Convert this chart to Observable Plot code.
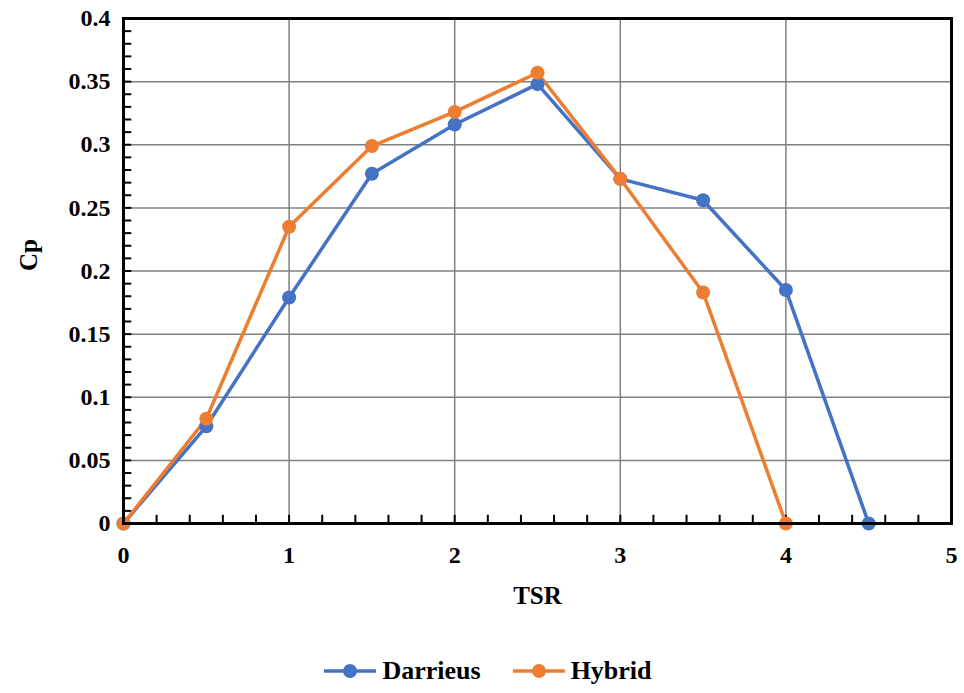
<!DOCTYPE html>
<html>
<head>
<meta charset="utf-8">
<script src="https://cdn.jsdelivr.net/npm/d3@7"></script>
<script src="https://cdn.jsdelivr.net/npm/@observablehq/plot@0.6"></script>
<style>
  html, body { margin: 0; padding: 0; background: #fff; }
  #chart { width: 964px; }
  .legend { display: flex; justify-content: center; align-items: center; gap: 30px; font-family: "Liberation Serif", "DejaVu Serif", serif; font-weight: bold; font-size: 26px; color: #000; margin-top: 28px; padding-left: 10px;}
  .legend span { display: flex; align-items: center; gap: 4px; }
</style>
</head>
<body>
<div id="chart"></div>
<script>
const tsr = [0, 0.5, 1, 1.5, 2, 2.5, 3, 3.5, 4, 4.5];
const darrieus = [0, 0.077, 0.179, 0.277, 0.316, 0.348, 0.273, 0.256, 0.185, 0];
const hybridTsr = [0, 0.5, 1, 1.5, 2, 2.5, 3, 3.5, 4];
const hybrid = [0, 0.083, 0.235, 0.299, 0.326, 0.357, 0.273, 0.183, 0];
const seriesNames = ["Darrieus", "Hybrid"];
const seriesColors = ["#4472C4", "#ED7D31"];
const xTicks = [0, 1, 2, 3, 4, 5];
const xTickLabels = ["0", "1", "2", "3", "4", "5"];
const yTicks = [0, 0.05, 0.1, 0.15, 0.2, 0.25, 0.3, 0.35, 0.4];
const yTickLabels = ["0", "0.05", "0.1", "0.15", "0.2", "0.25", "0.3", "0.35", "0.4"];
const xMinor = d3.range(0, 5.001, 0.2).map(v => +v.toFixed(2));
const yMinor = d3.range(0, 0.4001, 0.01).map(v => +v.toFixed(3));

const data = [
  ...tsr.map((x, i) => ({series: seriesNames[0], x, y: darrieus[i]})),
  ...hybridTsr.map((x, i) => ({series: seriesNames[1], x, y: hybrid[i]}))
];

const font = "Liberation Serif, DejaVu Serif, serif";

const chart = Plot.plot({
  width: 964,
  height: 628,
  marginLeft: 123,
  marginRight: 13,
  marginTop: 18,
  marginBottom: 105,
  style: {fontFamily: font, fontWeight: "bold", fontSize: "24px", color: "#000", background: "#fff"},
  x: {domain: [0, 5]},
  y: {domain: [0, 0.4]},
  color: {domain: seriesNames, range: seriesColors},
  marks: [
    Plot.ruleX(xTicks, {stroke: "#808080", strokeWidth: 1.5}),
    Plot.ruleY(yTicks, {stroke: "#808080", strokeWidth: 1.5}),
    Plot.ruleX(xMinor, {y1: 0, y2: 0.0065, stroke: "#000", strokeWidth: 2}),
    Plot.ruleY(yMinor, {x1: 0, x2: 0.05, stroke: "#000", strokeWidth: 2}),
    Plot.axisX({ticks: xTicks, tickFormat: (d, i) => xTickLabels[i], tickSize: 0, tickPadding: 22, label: null, fontSize: 24, fontFamily: font}),
    Plot.axisY({ticks: yTicks, tickFormat: (d, i) => yTickLabels[i], tickSize: 0, tickPadding: 13, label: null, fontSize: 24, fontFamily: font}),
    Plot.text(["TSR"], {frameAnchor: "bottom", dy: 80, fontSize: 25, fontWeight: "bold", fontFamily: font}),
    Plot.text(["Cp"], {frameAnchor: "left", dx: -95, rotate: -90, fontSize: 25, fontWeight: "bold", fontFamily: font}),
    Plot.line(data, {x: "x", y: "y", z: "series", stroke: "series", strokeWidth: 3.5}),
    Plot.dot(data, {x: "x", y: "y", fill: "series", r: 7}),
    Plot.frame({stroke: "#000", strokeWidth: 3})
  ]
});
document.getElementById("chart").appendChild(chart);

const legend = document.createElement("div");
legend.className = "legend";
seriesNames.forEach((name, i) => {
  const s = document.createElement("span");
  s.innerHTML = `<svg width="56" height="16"><line x1="2" y1="8" x2="54" y2="8" stroke="${seriesColors[i]}" stroke-width="3.5"/><circle cx="28" cy="8" r="7" fill="${seriesColors[i]}"/></svg>${name}`;
  legend.appendChild(s);
});
document.getElementById("chart").appendChild(legend);
</script>
</body>
</html>
